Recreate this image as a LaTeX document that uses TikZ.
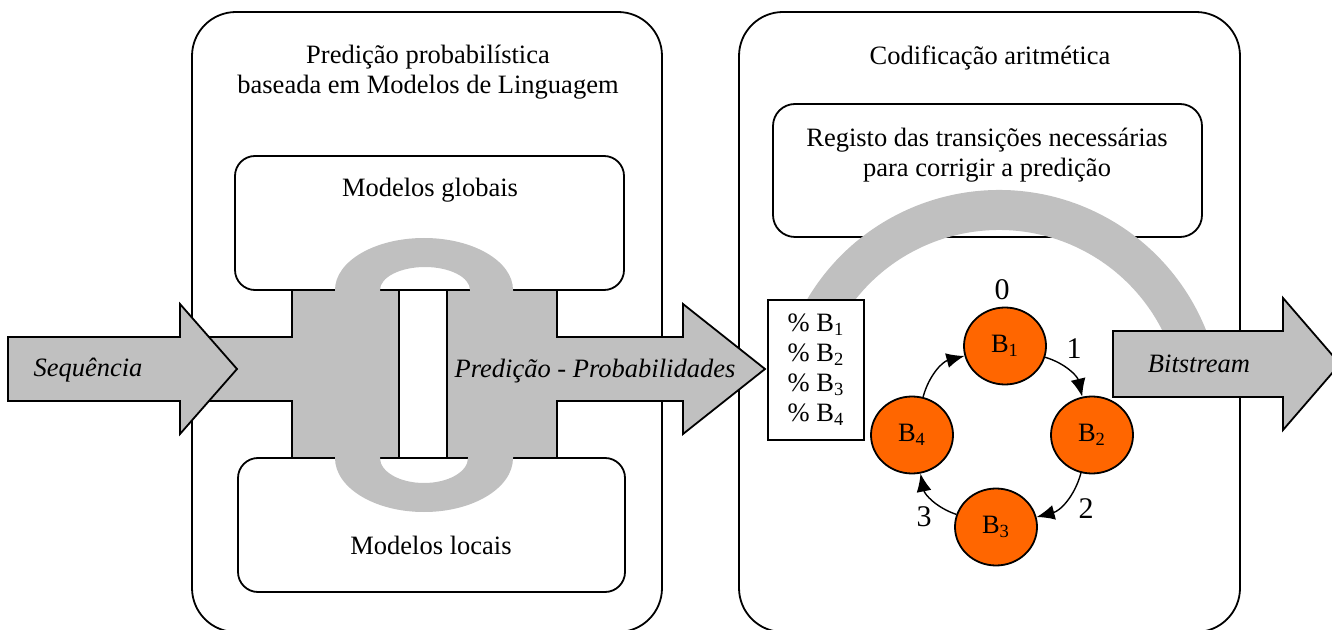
\documentclass[tikz,border=0pt]{standalone}
\usepackage{fontspec}
\setmainfont{Liberation Serif}
\usetikzlibrary{shapes.geometric,arrows.meta}

\definecolor{cinza}{HTML}{C0C0C0}
\definecolor{laranja}{HTML}{FF6600}

\begin{document}
\begin{tikzpicture}[x=0.5pt,y=0.5pt,line width=0.9pt,
    font=\fontsize{13.25}{15}\selectfont]

        \useasboundingbox (0,0) rectangle (1332,-630);

        % caixas exteriores
        \draw[fill=white, rounded corners=22pt] (192,-12) rectangle (662,-632);
        \draw[fill=white, rounded corners=22pt] (739,-12) rectangle (1240,-632);

        % bloco cinzento + seta da predicao
        \draw[fill=cinza] (200,-337) -- (292,-337) -- (292,-290) -- (557,-290)
          -- (557,-337) -- (683,-337) -- (683,-304) -- (765,-369) -- (683,-434)
          -- (683,-401) -- (557,-401) -- (557,-458) -- (292,-458) -- (292,-401)
          -- (200,-401) -- cycle;

        % modelos
        \draw[fill=white, rounded corners=10pt] (235,-156) rectangle (624,-290);
        \draw[fill=white, rounded corners=10pt] (238,-458) rectangle (625,-592);

        % anel
        \fill[cinza, even odd rule]
          (335,-293) -- (335,-290) arc[start angle=180, end angle=0, x radius=89, y radius=52] -- (513,-293) -- cycle
          (380,-293) -- (380,-290) arc[start angle=180, end angle=0, x radius=45, y radius=23] -- (470,-293) -- cycle;
        \fill[cinza, even odd rule]
          (335,-455) -- (335,-458) arc[start angle=180, end angle=360, x radius=89, y radius=54] -- (513,-455) -- cycle
          (380,-455) -- (380,-458) arc[start angle=180, end angle=360, x radius=44, y radius=25] -- (468,-455) -- cycle;
        \fill[white] (399,-291) rectangle (447,-457);
        \draw (399,-290) -- (399,-458) (447,-290) -- (447,-458);

        % seta de entrada
        \draw[fill=cinza] (8,-337) -- (180,-337) -- (180,-304) -- (237,-369)
          -- (180,-434) -- (180,-401) -- (8,-401) -- cycle;

        % codificacao
        \draw[fill=white, rounded corners=11pt] (773,-104) rectangle (1202,-237);
        \draw[cinza, line width=20pt] (999,-413) ++(150:203) arc[start angle=150, end angle=18, radius=203];
        \draw[fill=cinza] (1113,-331) -- (1283,-331) -- (1283,-298) -- (1340,-364)
          -- (1283,-430) -- (1283,-397) -- (1113,-397) -- cycle;

        \node[draw, fill=white, minimum width=48pt, minimum height=70pt, align=center]
          (perc) at (816,-370) {\% B\textsubscript{1}\\\% B\textsubscript{2}\\\% B\textsubscript{3}\\\% B\textsubscript{4}};

        \begin{scope}[every node/.style={anchor=base}]
          \node[align=center] (titpred) at (428,-94) {Predição probabilística\\baseada em Modelos de Linguagem};
          \node (glob) at (430,-197) {Modelos globais};
          \node (loc) at (431,-554) {Modelos locais};
          \node (titcod) at (990,-65) {Codificação aritmética};
          \node[align=center] (reg) at (987,-177) {Registo das transições necessárias\\para corrigir a predição};
          \node (seq) at (88,-377) {\textit{Sequência}};
          \node (pred) at (595,-378) {\textit{Predição - Probabilidades}};
          \node (bits) at (1199,-372) {\textit{Bitstream}};
        \end{scope}

        \begin{scope}[every node/.style={ellipse, draw, fill=laranja, minimum width=41pt,
            minimum height=38.5pt, inner sep=0pt}]
          \node (b1) at (1005,-346) {B\textsubscript{1}};
          \node (b2) at (1092,-435) {B\textsubscript{2}};
          \node (b3) at (996,-527)  {B\textsubscript{3}};
          \node (b4) at (912,-435)  {B\textsubscript{4}};
        \end{scope}

        \begin{scope}[every node/.style={font=\fontsize{15}{15}\selectfont}]
          \node (n0) at (1002,-290) {0};
          \node (n1) at (1074,-349) {1};
          \node (n2) at (1086,-509) {2};
          \node (n3) at (924,-517)  {3};
        \end{scope}

        \begin{scope}[line width=0.7pt, -{Latex[length=9pt,width=7.5pt]}]
          \path (b1) edge[bend left=30] (b2);
          \path (b2) edge[bend left=30] (b3);
          \path (b3) edge[bend left=30] (b4);
          \path (b4) edge[bend left=30] (b1);
        \end{scope}

      \end{tikzpicture}
\end{document}
